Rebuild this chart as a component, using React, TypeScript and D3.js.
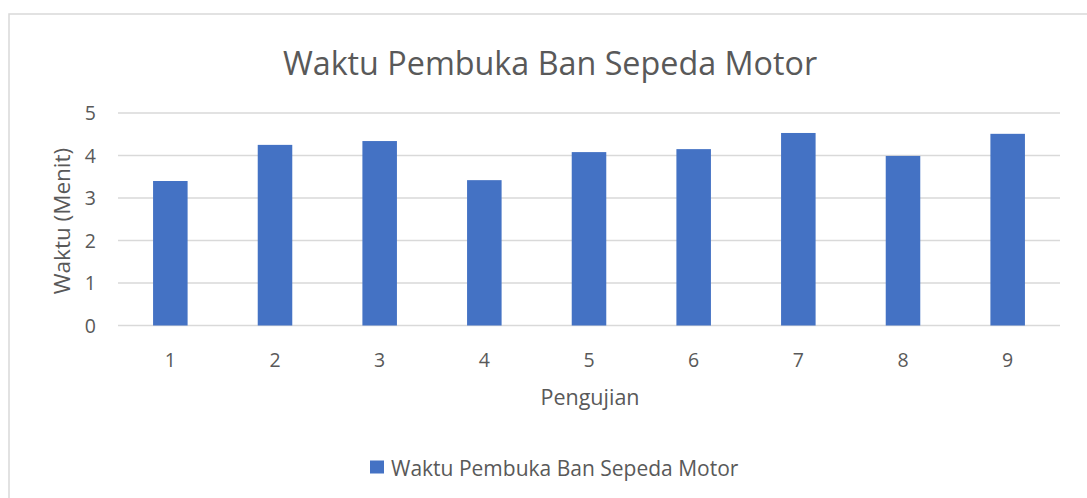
import React from "react";
import * as d3 from "d3";

const categories = ["1", "2", "3", "4", "5", "6", "7", "8", "9"];
const values = [3.4, 4.25, 4.34, 3.42, 4.08, 4.15, 4.53, 3.99, 4.51];
const yTicks = [0, 1, 2, 3, 4, 5];
const title = "Waktu Pembuka Ban Sepeda Motor";
const seriesName = "Waktu Pembuka Ban Sepeda Motor";
const xTitle = "Pengujian";
const yTitle = "Waktu (Menit)";

const W = 1087;
const H = 498;
const FONT = "'Open Sans', sans-serif";
const TEXT = "#595959";
const GRID = "#d9d9d9";
const BAR = "#4472c4";

export default function App() {
  const x = d3.scaleBand<string>().domain(categories).range([118, 1060]).paddingInner(0.67).paddingOuter(0.335);
  const y = d3.scaleLinear().domain([0, 5]).range([325.5, 113]);
  return (
    <svg width={W} height={H} style={{ position: "absolute", left: 0, top: 0, background: "#fff" }}>
      <rect x={9} y={14} width={1090} height={500} fill="#fff" stroke={GRID} strokeWidth={1.5} />
      <text x={550} y={75} textAnchor="middle" fontFamily={FONT} fontSize={32.3} fill={TEXT}>{title}</text>
      {yTicks.map((t) => (
        <g key={t}>
          <line x1={118} x2={1060} y1={y(t)} y2={y(t)} stroke={GRID} strokeWidth={1.5} />
          <text x={96} y={y(t)} dy="0.36em" textAnchor="end" fontFamily={FONT} fontSize={19.5} fill={TEXT}>{t}</text>
        </g>
      ))}
      {values.map((v, i) => (
        <rect key={i} x={x(categories[i])} y={y(v)} width={x.bandwidth()} height={y(0) - y(v)} fill={BAR} />
      ))}
      {categories.map((c) => (
        <text key={c} x={(x(c) as number) + x.bandwidth() / 2} y={367} textAnchor="middle" fontFamily={FONT} fontSize={19.5} fill={TEXT}>{c}</text>
      ))}
      <text x={590} y={405} textAnchor="middle" fontFamily={FONT} fontSize={21.5} fill={TEXT}>{xTitle}</text>
      <text transform={`translate(70,221) rotate(-90)`} textAnchor="middle" fontFamily={FONT} fontSize={22.5} fill={TEXT}>{yTitle}</text>
      <rect x={370} y={460.5} width={14} height={13} fill={BAR} />
      <text x={391} y={476} fontFamily={FONT} fontSize={21} fill={TEXT}>{seriesName}</text>
    </svg>
  );
}
